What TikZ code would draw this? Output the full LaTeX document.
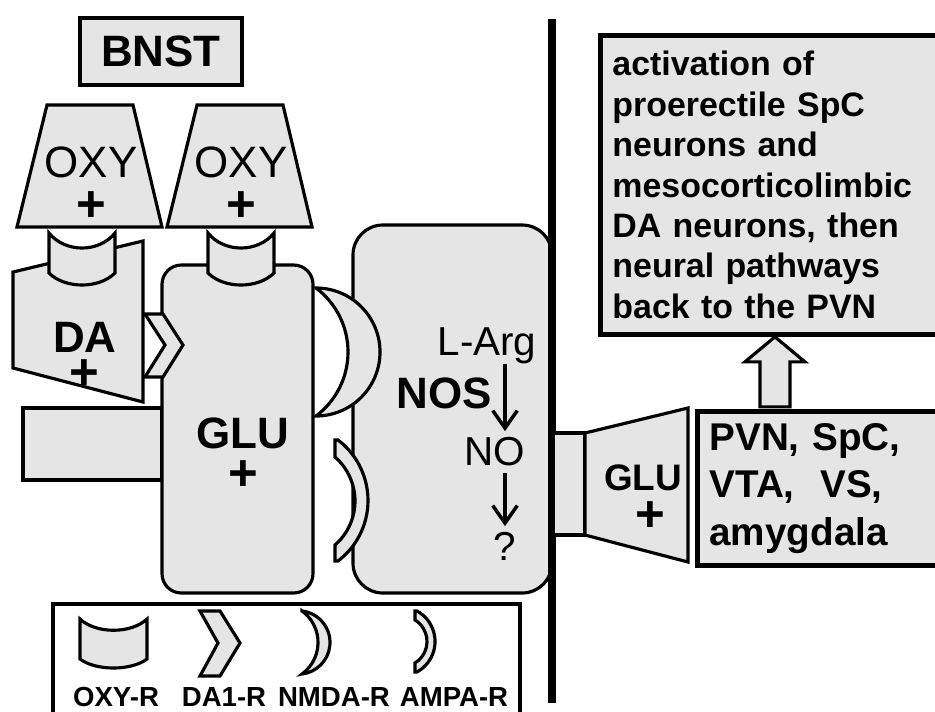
\documentclass[tikz,border=0pt]{standalone}
\usepackage{fontspec}
\setmainfont{Liberation Sans}
\usepackage{tikz}
\usetikzlibrary{arrows.meta, calc}
\definecolor{cellgray}{gray}{0.9}

\begin{document}
\begin{tikzpicture}[x=0.02cm, y=-0.02cm, >={Straight Barb[length=10pt, width=14pt]},
  cellfill/.style={draw, line width=1.8pt, fill=cellgray},
  bigtxt/.style={font=\fontsize{25}{30}\selectfont\bfseries, inner sep=0pt},
  midtxt/.style={font=\fontsize{23}{27}\selectfont, inner sep=0pt},
  plustxt/.style={font=\fontsize{29}{30}\selectfont\bfseries, inner sep=0pt},
  lgdtxt/.style={font=\fontsize{15.7}{18}\selectfont\bfseries, inner sep=0pt, anchor=base}]
  \useasboundingbox (0,0) rectangle (935,711);

  % BNST label
  \node[cellfill, line width=2.2pt, bigtxt, minimum width=3.24cm, minimum height=1.34cm] (bnst) at (161,51.5) {BNST};

  % Fibre entering from the left
  \draw[cellfill] (23,408) rectangle (162,480);

  % DA neuron
  \draw[cellfill] (13,272) -- (143,241) -- (143,402) -- (13,368) -- cycle;

  % GLU neuron
  \draw[cellfill, rounded corners=11pt] (162,265) rectangle (313,593);

  % OXY receptors on DA and GLU
  \foreach \x in {49, 208} {
    \draw[cellfill] (\x,233) .. controls (\x+16,253) and (\x+50,253) .. (\x+66,233)
      -- (\x+66,273) .. controls (\x+50,289) and (\x+16,289) .. (\x,273) -- cycle;
  }

  % OXY terminals
  \foreach \x/\n in {0/L, 150/R} {
    \draw[cellfill] (47+\x,105) -- (133+\x,105) -- (162+\x,227) -- (17+\x,227) -- cycle;
    \node[font=\fontsize{25}{30}\selectfont, inner sep=0pt, anchor=base] (oxy\n) at (91+\x,177) {OXY};
    \node[plustxt] (oxyplus\n) at (91+\x,207) {+};
  }

  % DA1 receptor
  \fill[white] (146,314) -- (163,314) -- (166,345) -- (163,377) -- (146,377) -- cycle;
  \draw[cellfill] (145,314) -- (163,314) -- (183,345) -- (163,377) -- (145,377) -- (165,345) -- cycle;

  \node[bigtxt, anchor=base] (da) at (85,352) {DA};
  \node[plustxt] (daplus) at (84,375) {+};
  \node[bigtxt, anchor=base] (glu) at (243,448) {GLU};
  \node[plustxt] (gluplus) at (243,476) {+};

  % NOS neuron
  \draw[cellfill, rounded corners=17pt] (353,225) rectangle (552,593);

  % NMDA receptor
  \draw[cellfill] (316,288) arc[start angle=-90, end angle=90, radius=64]
    arc[start angle=53.13, end angle=-53.13, radius=80] -- cycle;

  % AMPA receptor
  \draw[cellfill] (338,440) arc[start angle=-52.75, end angle=52.75, radius=76] -- (335,561)
    -- (335,545) arc[start angle=48.9, end angle=-48.9, radius=58.4] -- (335,440) -- cycle;

  % L-Arg -> NO -> ?
  \node[midtxt, anchor=base] (larg) at (487,355) {L-Arg};
  \node[bigtxt, anchor=base] (nos) at (444,408) {NOS};
  \node[midtxt, anchor=base] (no) at (495,465) {NO};
  \node[midtxt, anchor=base] (qm) at (505,560) {?};
  \draw[->, line width=2pt, shorten >=3pt] (larg.south -| qm) -- (no.north -| qm);
  \draw[->, line width=2pt, shorten <=4pt, shorten >=3pt] (no.south -| qm) -- (qm.north);

  % Midline
  \draw[line width=4.5pt] (552,19) -- (552,703);

  % GLU output terminal
  \draw[cellfill] (553,433) rectangle (585,535);
  \draw[cellfill] (585,433) -- (688,408) -- (688,562) -- (585,535) -- cycle;
  \node[font=\fontsize{21}{25}\selectfont\bfseries, inner sep=0pt, anchor=base] (glur) at (643,490) {GLU};
  \node[plustxt] (glurplus) at (650,517) {+};

  % Targets
  \node[cellfill, line width=2.8pt, anchor=north west, minimum width=5cm, minimum height=3.08cm,
    text width=4.52cm, inner xsep=0.24cm, inner ysep=0pt, align=left,
    font=\fontsize{22}{27}\selectfont\bfseries] (pvn) at (695,409)
    {PVN, SpC,\\ VTA,\ \ VS,\\ amygdala};
  \node[cellfill, line width=2.8pt, anchor=north west, minimum width=6.98cm, minimum height=5.98cm,
    text width=6.5cm, inner xsep=0.24cm, inner ysep=0pt, align=left,
    font=\fontsize{19.3}{23}\selectfont\bfseries] (act) at (598,33)
    {activation of\\ proerectile SpC\\ neurons and\\ mesocorticolimbic\\ DA neurons, then\\ neural pathways\\ back to the PVN};

  % Hollow arrow
  \draw[cellfill] (act.south) -- ++(30,25) -- ++(-15,0) -- ++(0,45) -- ++(-30,0) -- ++(0,-45) -- ++(-15,0) -- cycle;

  % Legend
  \draw[line width=2pt] (53,604) rectangle (520,730);
  \draw[cellfill] (80,619) .. controls (96,634) and (131,634) .. (147,619)
    -- (147,659) .. controls (131,671) and (96,671) .. (80,659) -- cycle;
  \draw[cellfill] (200,611) -- (220,611) -- (240,643) -- (220,676) -- (200,676) -- (218,643) -- cycle;
  \draw[cellfill] (302,611) arc[start angle=-83.3, end angle=83.3, radius=31.7]
    arc[start angle=53.9, end angle=-53.9, radius=39] -- cycle;
  \draw[cellfill] (417,611) arc[start angle=-61.2, end angle=61.2, radius=34.8] -- (415,672)
    -- (415,663) arc[start angle=58.3, end angle=-58.3, radius=25.3] -- (415,611) -- cycle;
  \node[lgdtxt] (lgoxy) at (116,706) {OXY-R};
  \node[lgdtxt] (lgda) at (224,706) {DA1-R};
  \node[lgdtxt] (lgnmda) at (334,706) {NMDA-R};
  \node[lgdtxt] (lgampa) at (454,706) {AMPA-R};
\end{tikzpicture}
\end{document}
